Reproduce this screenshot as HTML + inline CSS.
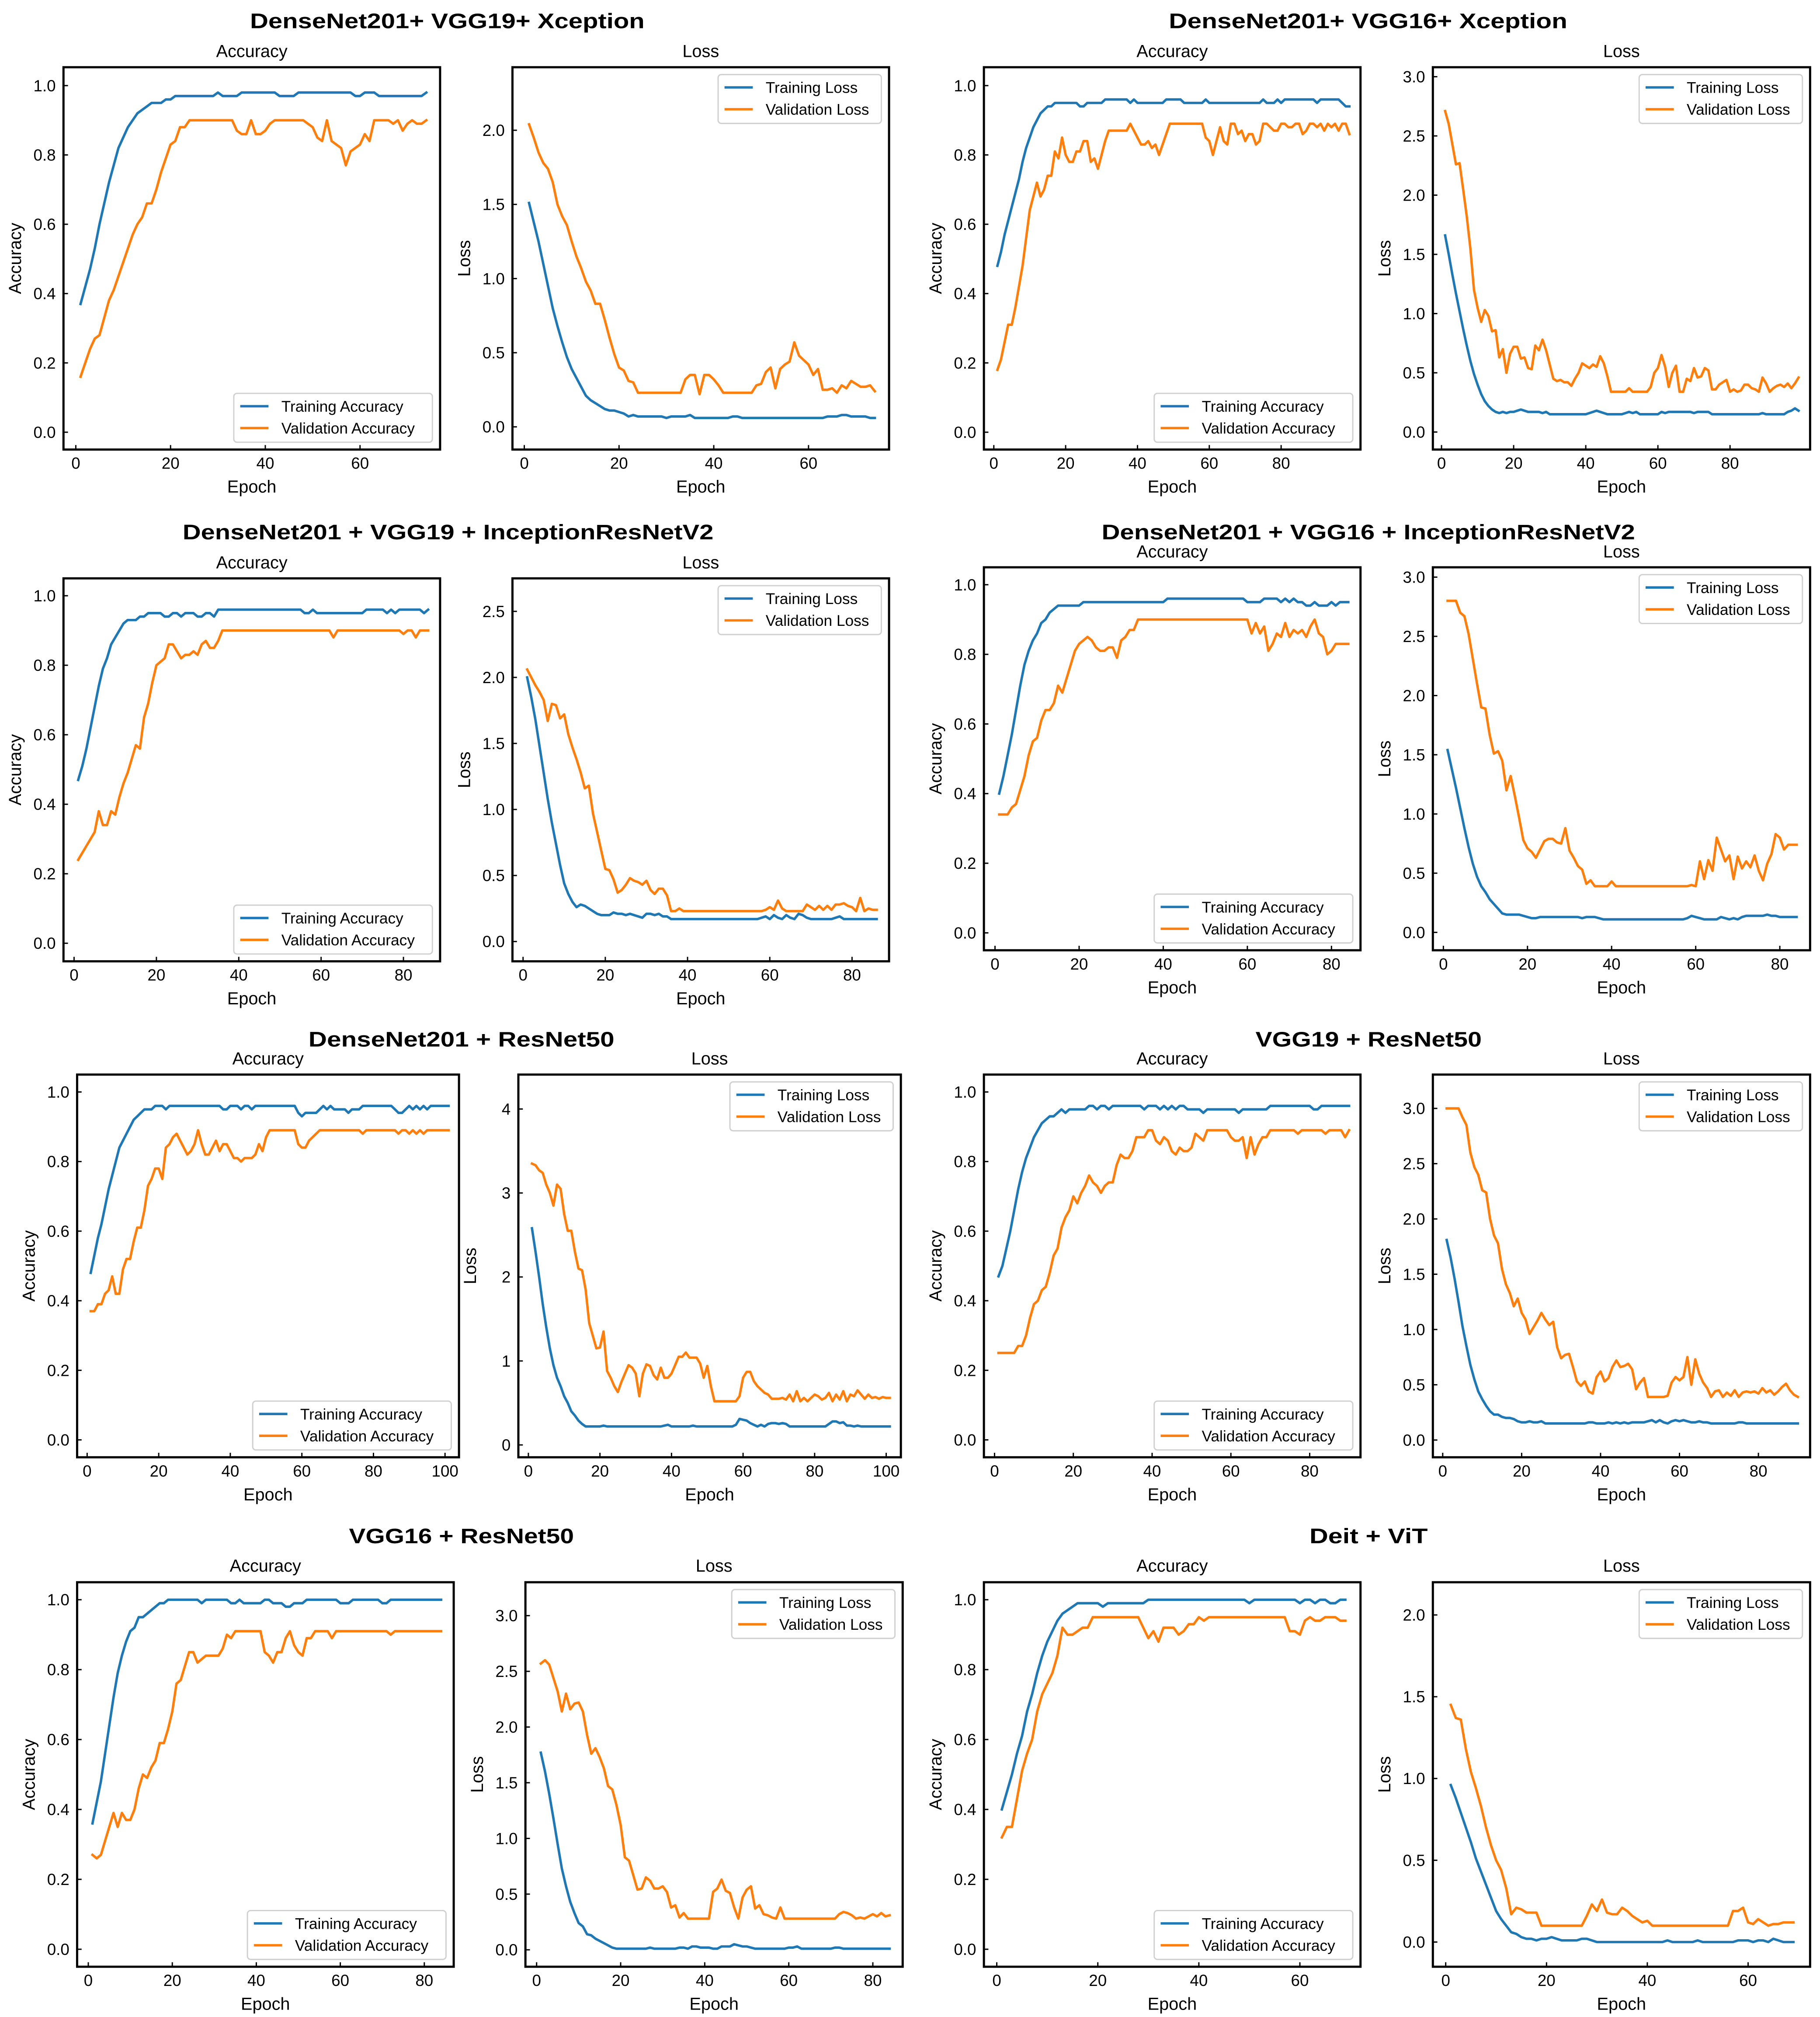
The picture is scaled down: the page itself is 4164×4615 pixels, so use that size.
<!DOCTYPE html>
<html>
<head>
<meta charset="utf-8">
<style>
html,body{margin:0;padding:0;background:#fff;}
svg{display:block;}
text{font-family:"Liberation Sans", sans-serif;fill:#000;}
</style>
</head>
<body>
<svg id="chart" xmlns="http://www.w3.org/2000/svg" width="4164" height="4615" viewBox="0 0 1416 1569" preserveAspectRatio="none">
<rect x="0" y="0" width="1416" height="1569" fill="#fff"/>
<text x="348" y="22" text-anchor="middle" font-size="16.5" font-weight="bold" textLength="307" lengthAdjust="spacingAndGlyphs">DenseNet201+ VGG19+ Xception</text>
<text x="1064.4" y="22" text-anchor="middle" font-size="16.5" font-weight="bold" textLength="310" lengthAdjust="spacingAndGlyphs">DenseNet201+ VGG16+ Xception</text>
<text x="348.6" y="419.5" text-anchor="middle" font-size="16.5" font-weight="bold" textLength="413" lengthAdjust="spacingAndGlyphs">DenseNet201 + VGG19 + InceptionResNetV2</text>
<text x="1064.6" y="419.5" text-anchor="middle" font-size="16.5" font-weight="bold" textLength="415" lengthAdjust="spacingAndGlyphs">DenseNet201 + VGG16 + InceptionResNetV2</text>
<text x="359" y="814" text-anchor="middle" font-size="16.5" font-weight="bold" textLength="238" lengthAdjust="spacingAndGlyphs">DenseNet201 + ResNet50</text>
<text x="1064.8" y="814" text-anchor="middle" font-size="16.5" font-weight="bold" textLength="176" lengthAdjust="spacingAndGlyphs">VGG19 + ResNet50</text>
<text x="359" y="1200.5" text-anchor="middle" font-size="16.5" font-weight="bold" textLength="175" lengthAdjust="spacingAndGlyphs">VGG16 + ResNet50</text>
<text x="1064.8" y="1200.5" text-anchor="middle" font-size="16.5" font-weight="bold" textLength="92" lengthAdjust="spacingAndGlyphs">Deit + ViT</text>
</svg>
<script>
// ---------- DATA ----------
const r1lTrainAcc=[.37,.42,.47,.53,.60,.66,.72,.77,.82,.85,.88,.90,.92,.93,.94,.95,.95,.95,.96,.96,.97,.97,.97,.97,.97,.97,.97,.97,.97,.98,.97,.97,.97,.97,.98,.98,.98,.98,.98,.98,.98,.98,.97,.97,.97,.97,.98,.98,.98,.98,.98,.98,.98,.98,.98,.98,.98,.98,.97,.97,.98,.98,.98,.97,.97,.97,.97,.97,.97,.97,.97,.97,.97,.98];
const r1lValAcc=[.16,.20,.24,.27,.28,.33,.38,.41,.45,.49,.53,.57,.60,.62,.66,.66,.70,.75,.79,.83,.84,.88,.88,.90,.90,.90,.90,.90,.90,.90,.90,.90,.90,.87,.86,.86,.90,.86,.86,.87,.89,.90,.90,.90,.90,.90,.90,.90,.89,.88,.85,.84,.90,.84,.83,.82,.77,.81,.82,.83,.86,.84,.90,.90,.90,.90,.89,.90,.87,.89,.90,.89,.89,.90];
const r1lTrainLoss=[1.51,1.38,1.25,1.10,.95,.80,.68,.57,.47,.39,.33,.27,.21,.18,.16,.14,.12,.11,.11,.10,.09,.07,.08,.07,.07,.07,.07,.07,.07,.06,.07,.07,.07,.07,.08,.06,.06,.06,.06,.06,.06,.06,.06,.07,.07,.06,.06,.06,.06,.06,.06,.06,.06,.06,.06,.06,.06,.06,.06,.06,.06,.06,.06,.07,.07,.07,.08,.08,.07,.07,.07,.07,.06,.06];
const r1lValLoss=[2.04,1.95,1.85,1.78,1.74,1.65,1.50,1.42,1.36,1.25,1.15,1.07,.98,.92,.83,.83,.72,.60,.49,.40,.38,.31,.30,.23,.23,.23,.23,.23,.23,.23,.23,.23,.23,.32,.35,.35,.22,.35,.35,.32,.28,.23,.23,.23,.23,.23,.23,.23,.28,.29,.37,.40,.26,.39,.42,.44,.57,.48,.45,.42,.35,.39,.25,.25,.26,.23,.28,.26,.31,.29,.27,.27,.28,.24];

const r1rTrainAcc=[.48,.52,.57,.61,.65,.69,.73,.78,.82,.85,.88,.90,.92,.93,.94,.94,.95,.95,.95,.95,.95,.95,.95,.94,.94,.95,.95,.95,.95,.95,.96,.96,.96,.96,.96,.96,.96,.95,.96,.95,.95,.95,.95,.95,.95,.95,.95,.96,.96,.96,.96,.96,.95,.95,.95,.95,.95,.95,.96,.95,.95,.95,.95,.95,.95,.95,.95,.95,.95,.95,.95,.95,.95,.95,.96,.95,.95,.95,.96,.95,.96,.96,.96,.96,.96,.96,.96,.96,.96,.95,.96,.96,.96,.96,.96,.96,.95,.94,.94];
const r1rValAcc=[.18,.21,.26,.31,.31,.36,.42,.48,.56,.64,.68,.72,.68,.70,.74,.74,.81,.79,.85,.80,.78,.78,.81,.81,.84,.84,.78,.79,.76,.80,.84,.87,.87,.87,.87,.87,.87,.89,.87,.85,.83,.83,.84,.82,.83,.80,.83,.86,.89,.89,.89,.89,.89,.89,.89,.89,.89,.89,.85,.84,.80,.84,.88,.84,.83,.89,.89,.86,.87,.84,.86,.86,.83,.84,.89,.89,.88,.87,.87,.89,.89,.88,.88,.89,.89,.86,.87,.89,.89,.88,.89,.87,.89,.88,.89,.87,.89,.89,.86];
const r1rTrainLoss=[1.66,1.50,1.33,1.17,1.02,.87,.73,.60,.49,.40,.32,.26,.22,.19,.17,.16,.17,.16,.17,.17,.18,.19,.18,.17,.17,.17,.17,.16,.17,.15,.15,.15,.15,.15,.15,.15,.15,.15,.15,.15,.16,.17,.18,.17,.16,.15,.15,.15,.15,.15,.16,.17,.16,.17,.15,.15,.15,.15,.15,.15,.17,.16,.17,.17,.17,.17,.17,.17,.17,.16,.17,.17,.17,.17,.15,.15,.15,.15,.15,.15,.15,.15,.15,.15,.15,.15,.15,.15,.16,.15,.15,.15,.15,.15,.15,.17,.18,.20,.18];
const r1rValLoss=[2.71,2.60,2.43,2.26,2.27,2.05,1.82,1.55,1.20,1.05,.93,1.03,.98,.85,.86,.63,.70,.50,.66,.72,.72,.62,.63,.54,.53,.73,.69,.78,.69,.57,.45,.43,.44,.42,.42,.39,.45,.50,.58,.56,.54,.57,.55,.64,.58,.47,.34,.34,.34,.34,.34,.37,.34,.34,.34,.34,.34,.38,.50,.54,.65,.55,.38,.50,.56,.34,.34,.45,.43,.54,.46,.47,.54,.52,.36,.36,.40,.42,.44,.34,.36,.34,.35,.40,.40,.37,.36,.34,.46,.41,.34,.37,.39,.40,.38,.41,.37,.41,.46];

const r2lTrainAcc=[.47,.51,.56,.62,.68,.74,.79,.82,.86,.88,.90,.92,.93,.93,.93,.94,.94,.95,.95,.95,.95,.94,.94,.95,.95,.94,.95,.95,.95,.94,.94,.95,.95,.94,.96,.96,.96,.96,.96,.96,.96,.96,.96,.96,.96,.96,.96,.96,.96,.96,.96,.96,.96,.96,.96,.95,.95,.96,.95,.95,.95,.95,.95,.95,.95,.95,.95,.95,.95,.95,.96,.96,.96,.96,.96,.95,.96,.95,.96,.96,.96,.96,.96,.96,.95,.96];
const r2lValAcc=[.24,.26,.28,.30,.32,.38,.34,.34,.38,.37,.42,.46,.49,.53,.57,.56,.65,.69,.75,.80,.81,.82,.86,.86,.84,.82,.83,.83,.84,.83,.86,.87,.85,.85,.87,.90,.90,.90,.90,.90,.90,.90,.90,.90,.90,.90,.90,.90,.90,.90,.90,.90,.90,.90,.90,.90,.90,.90,.90,.90,.90,.90,.88,.90,.90,.90,.90,.90,.90,.90,.90,.90,.90,.90,.90,.90,.90,.90,.90,.89,.90,.90,.88,.90,.90,.90];
const r2lTrainLoss=[2.00,1.85,1.68,1.48,1.28,1.08,.90,.74,.58,.44,.36,.30,.26,.28,.27,.25,.23,.21,.20,.20,.20,.22,.21,.21,.20,.21,.20,.19,.18,.21,.21,.20,.21,.19,.19,.17,.17,.17,.17,.17,.17,.17,.17,.17,.17,.17,.17,.17,.17,.17,.17,.17,.17,.17,.17,.17,.17,.18,.19,.17,.20,.18,.17,.20,.18,.17,.21,.20,.18,.17,.17,.17,.17,.17,.17,.18,.19,.17,.17,.17,.17,.17,.17,.17,.17,.17];
const r2lValLoss=[2.06,2.00,1.94,1.89,1.83,1.67,1.80,1.79,1.69,1.72,1.57,1.47,1.38,1.28,1.16,1.18,.97,.83,.69,.55,.54,.47,.37,.39,.43,.48,.46,.45,.43,.46,.39,.36,.40,.40,.35,.23,.23,.25,.23,.23,.23,.23,.23,.23,.23,.23,.23,.23,.23,.23,.23,.23,.23,.23,.23,.23,.23,.23,.24,.26,.24,.31,.25,.23,.23,.23,.23,.23,.28,.26,.24,.27,.24,.27,.24,.28,.28,.29,.27,.26,.23,.33,.23,.25,.24,.24];

const r2rTrainAcc=[.40,.45,.51,.57,.64,.71,.77,.81,.84,.86,.89,.90,.92,.93,.94,.94,.94,.94,.94,.94,.95,.95,.95,.95,.95,.95,.95,.95,.95,.95,.95,.95,.95,.95,.95,.95,.95,.95,.95,.95,.96,.96,.96,.96,.96,.96,.96,.96,.96,.96,.96,.96,.96,.96,.96,.96,.96,.96,.96,.95,.95,.95,.95,.96,.96,.96,.96,.95,.96,.95,.96,.95,.95,.94,.94,.95,.94,.94,.94,.95,.94,.95,.95,.95];
const r2rValAcc=[.34,.34,.34,.36,.37,.41,.45,.51,.55,.56,.61,.64,.64,.66,.71,.69,.73,.77,.81,.83,.84,.85,.84,.82,.81,.81,.82,.82,.79,.84,.85,.87,.87,.90,.90,.90,.90,.90,.90,.90,.90,.90,.90,.90,.90,.90,.90,.90,.90,.90,.90,.90,.90,.90,.90,.90,.90,.90,.90,.90,.86,.89,.86,.88,.81,.83,.86,.85,.89,.85,.87,.86,.87,.85,.88,.90,.86,.85,.80,.81,.83,.83,.83,.83];
const r2rTrainLoss=[1.54,1.38,1.22,1.05,.88,.72,.58,.47,.39,.34,.28,.24,.20,.16,.15,.15,.15,.15,.14,.13,.12,.12,.13,.13,.13,.13,.13,.13,.13,.13,.13,.13,.12,.13,.13,.13,.12,.11,.11,.11,.11,.11,.11,.11,.11,.11,.11,.11,.11,.11,.11,.11,.11,.11,.11,.11,.11,.12,.14,.13,.12,.11,.11,.11,.11,.13,.12,.11,.12,.11,.13,.14,.14,.14,.14,.14,.15,.14,.14,.13,.13,.13,.13,.13];
const r2rValLoss=[2.80,2.80,2.80,2.70,2.67,2.52,2.31,2.10,1.90,1.89,1.67,1.51,1.53,1.45,1.20,1.32,1.15,.97,.78,.71,.68,.63,.70,.77,.79,.79,.76,.75,.88,.69,.63,.56,.53,.41,.44,.39,.39,.39,.39,.43,.39,.39,.39,.39,.39,.39,.39,.39,.39,.39,.39,.39,.39,.39,.39,.39,.39,.39,.40,.39,.60,.45,.61,.52,.80,.70,.60,.65,.45,.64,.54,.60,.55,.65,.52,.44,.58,.66,.83,.80,.70,.74,.74,.74];

const r3lTrainAcc=[.48,.53,.58,.62,.67,.72,.76,.80,.84,.86,.88,.90,.92,.93,.94,.95,.95,.95,.96,.96,.96,.95,.96,.96,.96,.96,.96,.96,.96,.96,.96,.96,.96,.96,.96,.96,.96,.95,.95,.96,.96,.96,.95,.96,.96,.95,.96,.96,.96,.96,.96,.96,.96,.96,.96,.96,.96,.96,.94,.93,.94,.94,.94,.94,.95,.96,.95,.96,.95,.95,.95,.95,.94,.95,.95,.95,.96,.96,.96,.96,.96,.96,.96,.96,.96,.95,.94,.94,.95,.96,.95,.96,.95,.96,.95,.96,.96,.96,.96,.96,.96];
const r3lValAcc=[.37,.37,.39,.39,.42,.43,.47,.42,.42,.49,.52,.52,.57,.61,.61,.66,.73,.75,.78,.78,.75,.84,.85,.87,.88,.86,.84,.82,.83,.85,.89,.85,.82,.82,.84,.86,.83,.85,.85,.83,.81,.81,.80,.81,.81,.81,.82,.85,.83,.87,.89,.89,.89,.89,.89,.89,.89,.89,.85,.84,.84,.86,.87,.88,.89,.89,.89,.89,.89,.89,.89,.89,.89,.89,.89,.89,.88,.89,.89,.89,.89,.89,.89,.89,.89,.89,.88,.89,.89,.88,.89,.88,.89,.88,.89,.89,.89,.89,.89,.89,.89];
const r3lTrainLoss=[2.58,2.30,2.00,1.68,1.40,1.15,.95,.80,.70,.58,.50,.40,.35,.29,.25,.22,.22,.22,.22,.22,.23,.22,.22,.22,.22,.22,.22,.22,.22,.22,.22,.22,.22,.22,.22,.22,.22,.23,.24,.22,.22,.22,.22,.22,.22,.23,.22,.22,.22,.22,.22,.22,.22,.22,.22,.22,.22,.24,.31,.30,.29,.26,.24,.22,.24,.22,.25,.26,.26,.25,.26,.25,.22,.22,.22,.22,.22,.22,.22,.22,.22,.22,.22,.25,.28,.28,.26,.27,.23,.23,.22,.23,.22,.22,.22,.22,.22,.22,.22,.22,.22];
const r3lValLoss=[3.35,3.33,3.27,3.24,3.10,3.00,2.85,3.10,3.05,2.75,2.55,2.55,2.30,2.10,2.08,1.85,1.45,1.30,1.15,1.16,1.35,.88,.80,.70,.63,.75,.85,.95,.92,.85,.58,.85,.96,.94,.83,.78,.92,.80,.80,.85,.95,1.05,1.05,1.10,1.04,1.04,1.04,.97,.80,.94,.70,.52,.52,.52,.52,.52,.52,.52,.58,.80,.87,.87,.76,.70,.66,.62,.60,.55,.55,.55,.56,.54,.60,.52,.64,.52,.56,.52,.56,.60,.58,.54,.56,.62,.52,.60,.54,.64,.52,.60,.58,.65,.60,.55,.60,.56,.57,.55,.57,.56,.56];

const r3rTrainAcc=[.47,.50,.55,.60,.66,.72,.77,.81,.84,.87,.89,.91,.92,.93,.93,.94,.95,.94,.95,.95,.95,.95,.95,.96,.96,.95,.96,.96,.95,.96,.96,.96,.96,.96,.96,.96,.96,.95,.96,.96,.96,.95,.96,.95,.96,.95,.96,.96,.95,.95,.95,.95,.94,.95,.95,.95,.95,.95,.95,.95,.95,.94,.95,.95,.95,.95,.95,.95,.95,.96,.96,.96,.96,.96,.96,.96,.96,.96,.96,.96,.95,.95,.96,.96,.96,.96,.96,.96,.96,.96];
const r3rValAcc=[.25,.25,.25,.25,.25,.27,.27,.30,.35,.39,.40,.43,.44,.48,.53,.55,.61,.64,.66,.70,.68,.71,.73,.76,.74,.73,.71,.73,.74,.74,.79,.82,.81,.81,.83,.87,.87,.87,.89,.89,.86,.85,.87,.86,.83,.82,.84,.83,.83,.84,.88,.87,.86,.89,.89,.89,.89,.89,.89,.87,.86,.86,.87,.81,.87,.82,.85,.87,.87,.89,.89,.89,.89,.89,.89,.89,.88,.89,.89,.89,.89,.89,.89,.88,.89,.89,.89,.89,.87,.89];
const r3rTrainLoss=[1.81,1.65,1.46,1.25,1.03,.85,.68,.55,.44,.37,.31,.26,.23,.23,.21,.20,.20,.19,.17,.16,.16,.17,.16,.16,.17,.15,.15,.15,.15,.15,.15,.15,.15,.15,.15,.15,.16,.16,.15,.15,.15,.16,.15,.16,.15,.16,.15,.16,.16,.16,.16,.17,.18,.16,.18,.16,.15,.17,.18,.17,.18,.17,.16,.16,.17,.16,.16,.15,.15,.15,.15,.15,.15,.15,.16,.16,.15,.15,.15,.15,.15,.15,.15,.15,.15,.15,.15,.15,.15,.15];
const r3rValLoss=[3.00,3.00,3.00,3.00,2.92,2.85,2.60,2.47,2.40,2.26,2.24,2.00,1.85,1.78,1.55,1.41,1.33,1.21,1.28,1.15,1.09,.96,1.02,1.08,1.15,1.09,1.04,1.07,.84,.74,.77,.78,.66,.53,.49,.53,.44,.42,.57,.62,.53,.56,.66,.72,.66,.67,.69,.64,.46,.52,.56,.39,.39,.39,.39,.39,.40,.52,.57,.54,.57,.75,.50,.73,.60,.52,.47,.39,.44,.45,.39,.43,.40,.45,.39,.43,.44,.43,.44,.42,.47,.43,.45,.41,.44,.48,.51,.45,.41,.39];

const r4lTrainAcc=[.36,.42,.48,.56,.64,.72,.79,.84,.88,.91,.92,.95,.95,.96,.97,.98,.99,.99,1.00,1.00,1.00,1.00,1.00,1.00,1.00,1.00,.99,1.00,1.00,1.00,1.00,1.00,1.00,.99,.99,1.00,.99,.99,.99,.99,.99,1.00,1.00,.99,.99,.99,.98,.98,.99,.99,.99,1.00,1.00,1.00,1.00,1.00,1.00,1.00,1.00,.99,.99,.99,1.00,1.00,1.00,1.00,1.00,1.00,1.00,.99,.99,1.00,1.00,1.00,1.00,1.00,1.00,1.00,1.00,1.00,1.00,1.00,1.00,1.00];
const r4lValAcc=[.27,.26,.27,.31,.35,.39,.35,.39,.37,.37,.40,.46,.50,.49,.52,.54,.59,.59,.63,.68,.76,.77,.81,.85,.85,.82,.83,.84,.84,.84,.84,.86,.90,.89,.91,.91,.91,.91,.91,.91,.91,.85,.84,.82,.85,.85,.89,.91,.87,.85,.84,.89,.89,.91,.91,.91,.91,.89,.91,.91,.91,.91,.91,.91,.91,.91,.91,.91,.91,.91,.91,.90,.91,.91,.91,.91,.91,.91,.91,.91,.91,.91,.91,.91];
const r4lTrainLoss=[1.77,1.60,1.40,1.18,.95,.73,.57,.43,.33,.24,.21,.14,.13,.10,.08,.06,.04,.02,.01,.01,.01,.01,.01,.01,.01,.01,.02,.01,.01,.01,.01,.01,.01,.02,.02,.01,.03,.03,.02,.02,.02,.01,.01,.03,.03,.03,.05,.04,.03,.03,.02,.01,.01,.01,.01,.01,.01,.01,.01,.02,.02,.03,.01,.01,.01,.01,.01,.01,.01,.01,.02,.02,.01,.01,.01,.01,.01,.01,.01,.01,.01,.01,.01,.01];
const r4lValLoss=[2.57,2.60,2.56,2.44,2.32,2.14,2.30,2.16,2.21,2.22,2.14,1.93,1.76,1.81,1.73,1.63,1.47,1.44,1.30,1.12,.83,.80,.67,.54,.55,.65,.62,.55,.55,.57,.52,.38,.40,.29,.33,.28,.28,.28,.28,.28,.28,.52,.55,.63,.53,.51,.38,.28,.47,.54,.57,.37,.40,.32,.31,.29,.28,.38,.28,.28,.28,.28,.28,.28,.28,.28,.28,.28,.28,.28,.28,.32,.34,.33,.31,.28,.29,.28,.30,.32,.30,.33,.30,.31];

const r4rTrainAcc=[.40,.45,.50,.56,.61,.68,.73,.79,.84,.88,.91,.94,.96,.97,.98,.99,.99,.99,.99,.99,.98,.99,.99,.99,.99,.99,.99,.99,.99,1.00,1.00,1.00,1.00,1.00,1.00,1.00,1.00,1.00,1.00,1.00,1.00,1.00,1.00,1.00,1.00,1.00,1.00,1.00,1.00,.99,1.00,1.00,1.00,1.00,1.00,1.00,1.00,1.00,1.00,.99,1.00,1.00,.99,1.00,1.00,.99,.99,1.00,1.00];
const r4rValAcc=[.32,.35,.35,.43,.51,.56,.60,.68,.73,.76,.79,.84,.92,.90,.90,.91,.92,.92,.95,.95,.95,.95,.95,.95,.95,.95,.95,.95,.92,.89,.91,.88,.92,.92,.92,.90,.91,.93,.93,.95,.94,.95,.95,.95,.95,.95,.95,.95,.95,.95,.95,.95,.95,.95,.95,.95,.95,.91,.91,.90,.94,.95,.94,.94,.95,.95,.95,.94,.94];
const r4rTrainLoss=[.96,.88,.79,.70,.61,.51,.43,.35,.27,.19,.14,.10,.06,.05,.03,.02,.02,.01,.02,.02,.03,.02,.01,.01,.01,.01,.02,.02,.01,0,0,0,0,0,0,0,0,0,0,0,0,0,0,.01,0,0,0,0,0,.01,0,0,0,0,0,0,0,.01,.01,.01,0,.01,.01,0,.02,.01,0,0,0];
const r4rValLoss=[1.45,1.37,1.36,1.18,1.04,.94,.83,.70,.59,.50,.44,.33,.17,.21,.20,.18,.18,.18,.10,.10,.10,.10,.10,.10,.10,.10,.10,.16,.23,.19,.26,.18,.17,.17,.21,.19,.16,.14,.12,.13,.10,.10,.10,.10,.10,.10,.10,.10,.10,.10,.10,.10,.10,.10,.10,.10,.19,.19,.21,.12,.11,.14,.12,.10,.11,.11,.12,.12,.12];

// tick label arrays
const accTicks=[0,0.2,0.4,0.6,0.8,1.0];
const accTickLabels=["0.0","0.2","0.4","0.6","0.8","1.0"];
const loss20Ticks=[0,0.5,1.0,1.5,2.0];
const loss20Labels=["0.0","0.5","1.0","1.5","2.0"];
const loss25Ticks=[0,0.5,1.0,1.5,2.0,2.5];
const loss25Labels=["0.0","0.5","1.0","1.5","2.0","2.5"];
const loss30Ticks=[0,0.5,1.0,1.5,2.0,2.5,3.0];
const loss30Labels=["0.0","0.5","1.0","1.5","2.0","2.5","3.0"];
const loss4Ticks=[0,1,2,3,4];
const loss4Labels=["0","1","2","3","4"];
const epochTicks60=[0,20,40,60];
const epochTicks80=[0,20,40,60,80];
const epochTicks100=[0,20,40,60,80,100];

// ---------- DRAWING ----------
const NS='http://www.w3.org/2000/svg';
const svg=document.getElementById('chart');
const BLUE='#1f77b4', ORANGE='#ff7f0e';
function mk(tag,attrs,parent){
  const e=document.createElementNS(NS,tag);
  for(const k in attrs) e.setAttribute(k,attrs[k]);
  parent.appendChild(e);
  return e;
}

function panel(p){
  const g=mk('g',{},svg);
  
  
  const sx=v=>p.x0+(v-p.xlim[0])/(p.xlim[1]-p.xlim[0])*(p.x1-p.x0);
  const sy=v=>p.y1-(v-p.ylim[0])/(p.ylim[1]-p.ylim[0])*(p.y1-p.y0);
  const cx=(p.x0+p.x1)/2, cy=(p.y0+p.y1)/2;

  const st=mk('text',{x:cx,y:p.sub+4.6,'text-anchor':'middle','font-size':13.5},g);
  
  
  st.textContent=p.isAcc?'Accuracy':'Loss';

  const series=[[p.train,BLUE,'training'],[p.val,ORANGE,'validation']];
  series.forEach(s=>{
    const pts=s[0].map((v,i)=>sx(i+1).toFixed(2)+','+sy(v).toFixed(2)).join(' ');
    const pl=mk('polyline',{points:pts,fill:'none',stroke:s[1],'stroke-width':1.9,'stroke-linejoin':'round','stroke-linecap':'square'},g);
    
    
  });

  const fr=mk('rect',{x:p.x0,y:p.y0,width:p.x1-p.x0,height:p.y1-p.y0,fill:'none',stroke:'#000','stroke-width':1.7},g);
  
  

  p.yt.forEach((v,i)=>{
    const y=sy(v);
    const t=mk('line',{x1:p.x0,x2:p.x0+3.5,y1:y,y2:y,stroke:'#000','stroke-width':1},g);
    
    
    const l=mk('text',{x:p.x0-6,y:y+4.4,'text-anchor':'end','font-size':12.5},g);
    
    
    l.textContent=p.ytl[i];
  });
  p.xt.forEach(v=>{
    const x=sx(v);
    const t=mk('line',{x1:x,x2:x,y1:p.y1,y2:p.y1-3.5,stroke:'#000','stroke-width':1},g);
    
    
    const l=mk('text',{x:x,y:p.y1+15,'text-anchor':'middle','font-size':12.5},g);
    
    
    l.textContent=String(v);
  });
  const xl=mk('text',{x:cx,y:p.y1+33.5,'text-anchor':'middle','font-size':13.5},g);
  
  
  xl.textContent='Epoch';
  const yx=p.x0-33;
  const yl=mk('text',{x:yx,y:cy,'text-anchor':'middle','font-size':13.5,transform:'rotate(-90 '+yx+' '+cy+')'},g);
  
  
  yl.textContent=p.isAcc?'Accuracy':'Loss';

  const lw=p.isAcc?154.5:127, lh=38;
  const lx=p.x1-6-lw;
  const ly=p.isAcc?(p.y1-5.7-lh):(p.y0+5.7);
  const lg=mk('g',{},g);
  
  
  const lb=mk('rect',{x:lx,y:ly,width:lw,height:lh,rx:2.5,fill:'#fff','fill-opacity':0.85,stroke:'#d0d0d0','stroke-width':1},lg);
  
  
  const names=p.isAcc?['Training Accuracy','Validation Accuracy']:['Training Loss','Validation Loss'];
  [BLUE,ORANGE].forEach((c,i)=>{
    const yy=ly+10+i*17;
    const ll=mk('line',{x1:lx+5,x2:lx+27,y1:yy,y2:yy,stroke:c,'stroke-width':1.9},lg);
    
    
    const lt=mk('text',{x:lx+37,y:yy+4.3,'font-size':12},lg);
    
    
    lt.textContent=names[i];
  });
}

const panels=[
 {name:'r1-left-accuracy',isAcc:true,x0:49.4,x1:342.4,y0:52.3,y1:349.7,sub:39.7,xlim:[-2.6,76.9],ylim:[-0.05,1.053],yt:accTicks,ytl:accTickLabels,xt:epochTicks60,train:r1lTrainAcc,val:r1lValAcc},
 {name:'r1-left-loss',isAcc:false,x0:398.7,x1:691.7,y0:52.3,y1:349.7,sub:39.7,xlim:[-2.5,77],ylim:[-0.153,2.425],yt:loss20Ticks,ytl:loss20Labels,xt:epochTicks60,train:r1lTrainLoss,val:r1lValLoss},
 {name:'r1-right-accuracy',isAcc:true,x0:765.5,x1:1058.5,y0:52.3,y1:349.7,sub:39.7,xlim:[-2.76,102.1],ylim:[-0.05,1.053],yt:accTicks,ytl:accTickLabels,xt:epochTicks80,train:r1rTrainAcc,val:r1rValAcc},
 {name:'r1-right-loss',isAcc:false,x0:1114.8,x1:1408.3,y0:52.3,y1:349.7,sub:39.7,xlim:[-2.4,102.2],ylim:[-0.148,3.08],yt:loss30Ticks,ytl:loss30Labels,xt:epochTicks80,train:r1rTrainLoss,val:r1rValLoss},
 {name:'r2-left-accuracy',isAcc:true,x0:49.4,x1:342.4,y0:449.9,y1:747.8,sub:437.5,xlim:[-2.57,88.9],ylim:[-0.052,1.05],yt:accTicks,ytl:accTickLabels,xt:epochTicks80,train:r2lTrainAcc,val:r2lValAcc},
 {name:'r2-left-loss',isAcc:false,x0:398.7,x1:691.7,y0:449.9,y1:747.8,sub:437.5,xlim:[-2.58,89],ylim:[-0.15,2.75],yt:loss25Ticks,ytl:loss25Labels,xt:epochTicks80,train:r2lTrainLoss,val:r2lValLoss},
 {name:'r2-right-accuracy',isAcc:true,x0:765.5,x1:1058.5,y0:441.3,y1:739.2,sub:429.1,xlim:[-2.64,86.9],ylim:[-0.05,1.05],yt:accTicks,ytl:accTickLabels,xt:epochTicks80,train:r2rTrainAcc,val:r2rValAcc},
 {name:'r2-right-loss',isAcc:false,x0:1114.8,x1:1408.3,y0:441.3,y1:739.2,sub:429.1,xlim:[-2.5,87.2],ylim:[-0.151,3.083],yt:loss30Ticks,ytl:loss30Labels,xt:epochTicks80,train:r2rTrainLoss,val:r2rValLoss},
 {name:'r3-left-accuracy',isAcc:true,x0:60.0,x1:357.1,y0:835.9,y1:1133.6,sub:823.5,xlim:[-2.8,103.9],ylim:[-0.05,1.05],yt:accTicks,ytl:accTickLabels,xt:epochTicks100,train:r3lTrainAcc,val:r3lValAcc},
 {name:'r3-left-loss',isAcc:false,x0:403.3,x1:700.9,y0:835.9,y1:1133.6,sub:823.5,xlim:[-2.8,104.1],ylim:[-0.147,4.41],yt:loss4Ticks,ytl:loss4Labels,xt:epochTicks100,train:r3lTrainLoss,val:r3lValLoss},
 {name:'r3-right-accuracy',isAcc:true,x0:765.5,x1:1058.5,y0:835.9,y1:1133.6,sub:823.5,xlim:[-2.7,92.9],ylim:[-0.05,1.05],yt:accTicks,ytl:accTickLabels,xt:epochTicks80,train:r3rTrainAcc,val:r3rValAcc},
 {name:'r3-right-loss',isAcc:false,x0:1114.8,x1:1408.3,y0:835.9,y1:1133.6,sub:823.5,xlim:[-2.5,93.1],ylim:[-0.156,3.306],yt:loss30Ticks,ytl:loss30Labels,xt:epochTicks80,train:r3rTrainLoss,val:r3rValLoss},
 {name:'r4-left-accuracy',isAcc:true,x0:60.0,x1:353.0,y0:1230.8,y1:1529.9,sub:1217.9,xlim:[-2.66,87],ylim:[-0.05,1.05],yt:accTicks,ytl:accTickLabels,xt:epochTicks80,train:r4lTrainAcc,val:r4lValAcc},
 {name:'r4-left-loss',isAcc:false,x0:408.8,x1:702.3,y0:1230.8,y1:1529.9,sub:1217.9,xlim:[-2.66,87.1],ylim:[-0.152,3.3],yt:loss30Ticks,ytl:loss30Labels,xt:epochTicks80,train:r4lTrainLoss,val:r4lValLoss},
 {name:'r4-right-accuracy',isAcc:true,x0:765.5,x1:1058.5,y0:1230.8,y1:1529.9,sub:1217.9,xlim:[-2.55,72],ylim:[-0.05,1.05],yt:accTicks,ytl:accTickLabels,xt:epochTicks60,train:r4rTrainAcc,val:r4rValAcc},
 {name:'r4-right-loss',isAcc:false,x0:1114.8,x1:1408.3,y0:1230.8,y1:1529.9,sub:1217.9,xlim:[-2.55,72.3],ylim:[-0.151,2.2],yt:loss20Ticks,ytl:loss20Labels,xt:epochTicks60,train:r4rTrainLoss,val:r4rValLoss}
];
panels.forEach(panel);
</script>
</body>
</html>
